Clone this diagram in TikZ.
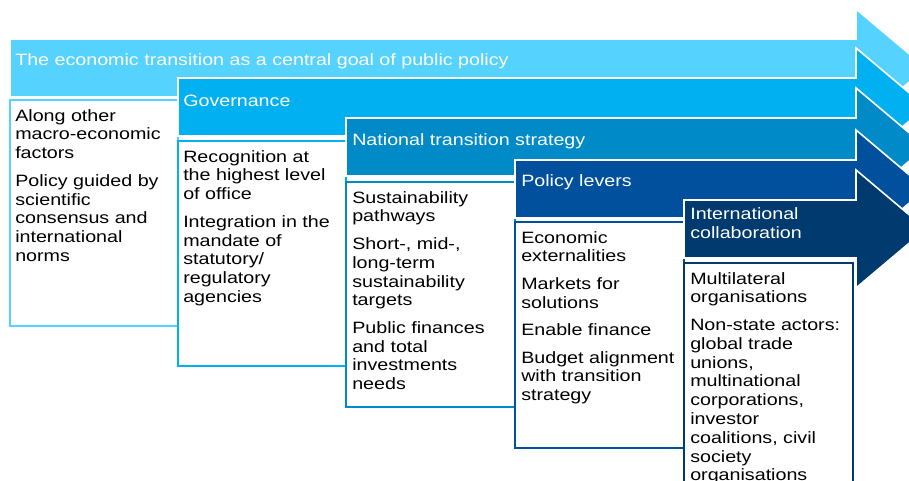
\documentclass[tikz,border=0pt]{standalone}
\usepackage{fontspec}
\setmainfont{Liberation Sans}[FakeStretch=1.2]
\usepackage{xcolor}
\usepackage{tikz}
\definecolor{stageone}{RGB}{85,210,254}
\definecolor{stagetwo}{RGB}{0,176,240}
\definecolor{stagethree}{RGB}{0,139,200}
\definecolor{stagefour}{RGB}{0,80,158}
\definecolor{stagefive}{RGB}{0,58,110}
\newcommand{\stagefont}{\fontsize{12.3}{14.1}\selectfont}
% arrow with body from x=#1, top y=#2, coloured #3
\NewDocumentCommand{\stagearrow}{mmm}{%
\filldraw[fill=#3, draw=white, line width=1.2pt] (#1,#2) -- (856,#2) -- (856,{#2-30}) -- (926,{#2+29}) -- (856,{#2+88}) -- (856,{#2+58}) -- (#1,{#2+58}) -- cycle;%
}

\begin{document}
\begin{tikzpicture}[x=0.75pt, y=-0.75pt,
titlenode/.style={anchor=west, inner sep=0pt, text=white, align=left, font=\stagefont},
textnode/.style={anchor=north west, inner sep=0pt, align=left, font=\stagefont},
boxline/.style={fill=white, line width=1.1pt},
]
\path[use as bounding box, clip] (0,0) rectangle (909,481);

%Stage 1
\stagearrow{10}{39}{stageone}
\draw[boxline, draw=stageone] (10,100) rectangle (178,326);
\node[titlenode] (goaltitle) at (15,61) {The economic transition as a central goal of public policy};
\node[textnode] (goaltext) at (15,109) {Along other\\macro-economic\\factors\\[6.5pt]Policy guided by\\scientific\\consensus and\\international\\norms};

%Stage 2
\stagearrow{178}{78}{stagetwo}
\draw[boxline, draw=stagetwo] (178,141) rectangle (346,366);
\node[titlenode] (govtitle) at (183,101) {Governance};
\node[textnode] (govtext) at (183,150) {Recognition at\\the highest level\\of office\\[6.5pt]Integration in the\\mandate of\\statutory/\\regulatory\\agencies};

%Stage 3
\stagearrow{346}{118}{stagethree}
\draw[boxline, draw=stagethree] (346,182) rectangle (515,407);
\node[titlenode] (strattitle) at (352,141) {National transition strategy};
\node[textnode] (strattext) at (352,191) {Sustainability\\pathways\\[6.5pt]Short-, mid-,\\long-term\\sustainability\\targets\\[6.5pt]Public finances\\and total\\investments\\needs};

%Stage 4
\stagearrow{515}{160}{stagefour}
\draw[boxline, draw=stagefour] (515,222) rectangle (684,448);
\node[titlenode] (levertitle) at (521,182) {Policy levers};
\node[textnode] (levertext) at (521,231) {Economic\\externalities\\[6.5pt]Markets for\\solutions\\[6.5pt]Enable finance\\[6.5pt]Budget alignment\\with transition\\strategy};

%Stage 5
\stagearrow{684}{200}{stagefive}
\draw[boxline, draw=stagefive] (684,263) rectangle (853,490);
\node[titlenode] (collabtitle) at (690,223) {International\\collaboration};
\node[textnode] (collabtext) at (690,272) {Multilateral\\organisations\\[6.5pt]Non-state actors:\\global trade\\unions,\\multinational\\corporations,\\investor\\coalitions, civil\\society\\organisations};
\end{tikzpicture}
\end{document}
